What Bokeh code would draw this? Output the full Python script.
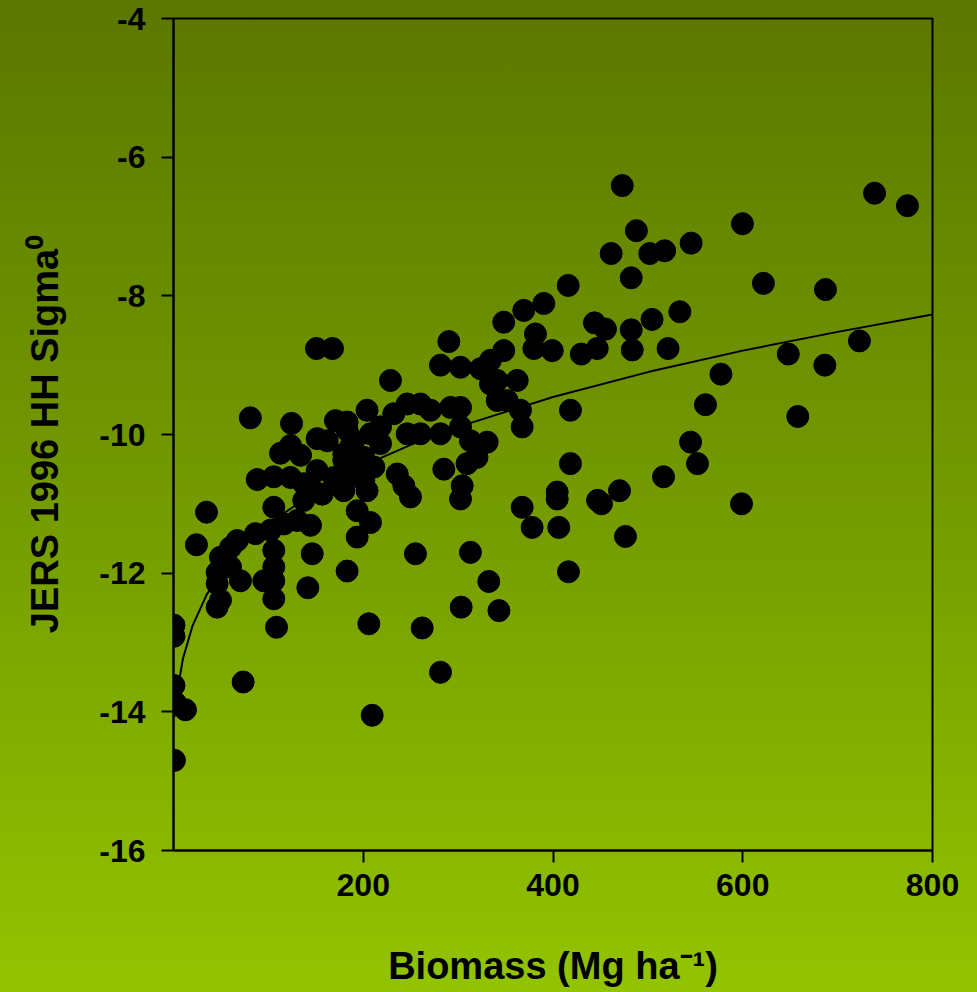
from bokeh.plotting import figure
from bokeh.models import Range1d, FixedTicker, ColumnDataSource
from bokeh.embed import file_html
from bokeh.resources import INLINE

# ---- data ----
biomass = [0.5, 0.5, 0.5, 2, 12.6, 1,
           73.4, 108.6, 105.7, 141.6, 205.9, 209.4, 262.1, 281.4, 303.2, 332.3, 343,
           81, 124.4, 112.8, 123.3, 133.9, 151.4, 162, 170.7, 183, 204,
           88.2, 105.7, 123.3, 144.4, 168.9, 156.7, 179.5, 105.7, 34.8, 24.2,
           137.3, 144.4, 130.4, 116.3, 102.2, 86.4, 67.1, 60.1, 49.5, 46, 46,
           70.6, 60.1, 105.7, 105.7, 95.2, 105.7, 49.5, 46, 146.2,
           183, 193.6, 193.6, 179.5, 186.5, 193.6, 204, 207.6, 151.4, 137.3, 150.7, 167.6,
           290.2, 348.1, 369.2, 390.3, 381.5, 379.8, 399.2, 348.1, 334.1, 281.4, 302.5,
           323.6, 334.1, 341.2, 362.3, 341.2, 351.7, 365.7, 367.5, 228.7, 246.3, 260.3,
           270.9, 292, 302.5, 232.2, 218.2, 246.3, 260.3, 281.4, 302.5, 313, 330.6,
           319.9, 309.4, 284.9, 183, 190, 179.5, 207.6, 218.2, 200.6, 211.2, 186.5,
           200.6, 235.8, 242.8, 249.8, 304.3, 302.5, 418.4, 418.4, 404.4, 404.4,
           367.5, 378, 406.1, 255, 313, 416.3,
           473, 487.9, 461.3, 502, 517.7, 545.6, 482.4, 416, 429.8, 446.6, 443.7,
           455.3, 482.4, 483.5, 504.4, 533.7, 521.3, 560.7, 577, 545, 648, 686.5,
           723, 658, 599.7, 621.8, 687.2, 738.9, 773.6, 598.7, 552.3, 516.5, 476.4,
           470.1, 451.1, 447]
sigma0 = [-12.75, -12.91, -13.62, -13.87, -13.97, -14.70,
          -13.57, -12.78, -12.37, -12.21, -12.73, -14.05, -12.79, -13.43, -12.49, -12.12, -12.54,
          -9.76, -9.84, -10.27, -10.16, -10.30, -10.06, -10.09, -9.80, -9.82, -9.65,
          -10.65, -10.61, -10.62, -10.76, -10.62, -10.86, -10.81, -11.05, -11.12, -11.59,
          -10.95, -11.31, -11.24, -11.29, -11.38, -11.43, -11.53, -11.63, -11.77, -11.99, -12.15,
          -12.11, -11.91, -11.67, -11.91, -12.11, -12.11, -12.39, -12.49, -11.72,
          -11.97, -11.48, -11.10, -10.37, -10.18, -10.57, -10.81, -11.27, -10.52, -10.71, -8.76, -8.76,
          -8.66, -8.38, -8.21, -8.11, -8.55, -8.76, -8.79, -8.79, -8.93, -9.00, -9.03,
          -9.05, -9.27, -9.22, -9.22, -9.51, -9.51, -9.65, -9.89, -9.22, -9.56, -9.56,
          -9.65, -9.61, -9.61, -9.70, -9.89, -9.99, -9.99, -9.99, -9.89, -10.09, -10.11,
          -10.33, -10.42, -10.50, -9.94, -10.09, -10.28, -9.99, -10.13, -10.33, -10.47, -10.57,
          -10.66, -10.57, -10.74, -10.90, -10.74, -10.93, -9.65, -10.42, -10.83, -10.93,
          -11.05, -11.34, -11.34, -11.72, -11.70, -11.98,
          -6.41, -7.06, -7.39, -7.39, -7.35, -7.24, -7.74, -7.85, -8.84, -8.76, -8.39,
          -8.48, -8.49, -8.78, -8.34, -8.23, -8.76, -9.57, -9.13, -10.11, -8.84, -9.00,
          -8.65, -9.74, -6.96, -7.82, -7.91, -6.52, -6.70, -11.00, -10.42, -10.61, -11.47,
          -10.81, -11.00, -10.95]

# fitted curve
fit_biomass = [2, 3, 5, 10, 20, 35, 50, 75, 100, 150, 200, 250, 300, 400, 500, 600, 700, 800]
fit_sigma0 = [-14.07, -13.88, -13.63, -13.23, -12.76, -12.31, -12.00, -11.60, -11.29,
              -10.82, -10.45, -10.15, -9.89, -9.46, -9.10, -8.79, -8.52, -8.27]

x_ticks = [200, 400, 600, 800]
x_tick_labels = ["200", "400", "600", "800"]
y_ticks = [-16, -14, -12, -10, -8, -6, -4]
y_tick_labels = ["-16", "-14", "-12", "-10", "-8", "-6", "-4"]

FONT = "Liberation Sans"

p = figure(width=977, height=992, output_backend="svg", toolbar_location=None,
           x_range=Range1d(0, 800), y_range=Range1d(-16, -4),
           min_border_left=173, min_border_right=45, min_border_top=18,
           min_border_bottom=142)
p.styles = {"background": "linear-gradient(to bottom, #5b7700 0%, #769e00 55%, #93c400 100%)"}
p.background_fill_color = None
p.border_fill_color = None
p.outline_line_color = "black"
p.outline_line_width = 2
p.grid.visible = False

src = ColumnDataSource(dict(x=biomass, y=sigma0))
p.scatter("x", "y", source=src, size=22, fill_color="black", line_color="black")
p.line(fit_biomass, fit_sigma0, line_color="black", line_width=2)

for ax in (p.xaxis[0], p.yaxis[0]):
    ax.axis_line_width = 2
    ax.axis_line_color = "black"
    ax.major_tick_line_width = 2
    ax.major_tick_line_color = "black"
    ax.major_tick_out = 12
    ax.major_tick_in = 0
    ax.minor_tick_line_color = None
    ax.major_label_text_font = FONT
    ax.major_label_text_font_style = "bold"
    ax.major_label_text_font_size = "32px"
    ax.major_label_text_color = "black"
    ax.axis_label_text_font = FONT
    ax.axis_label_text_font_style = "bold"
    ax.axis_label_text_font_size = "38px"
    ax.axis_label_text_color = "black"

p.xaxis.ticker = FixedTicker(ticks=x_ticks)
p.yaxis.ticker = FixedTicker(ticks=y_ticks)
p.xaxis.major_label_overrides = {t: s for t, s in zip(x_ticks, x_tick_labels)}
p.yaxis.major_label_overrides = {t: s for t, s in zip(y_ticks, y_tick_labels)}
p.xaxis.major_label_standoff = 11
p.yaxis.major_label_standoff = 16
p.xaxis.axis_label = "Biomass (Mg ha\u207b\u00b9)"
p.yaxis.axis_label = "JERS 1996 HH Sigma\u2070"
p.xaxis.axis_label_standoff = 46
p.yaxis.axis_label_standoff = 30

open("out.html", "w").write(file_html(p, INLINE))
